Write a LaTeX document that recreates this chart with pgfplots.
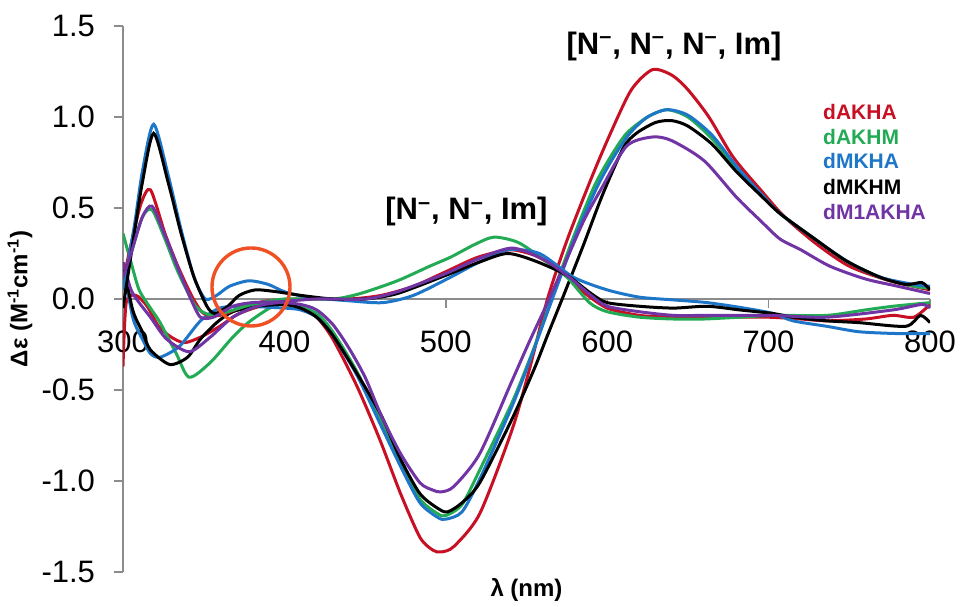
\documentclass[border=0pt]{standalone}
\usepackage{fontspec}
\setmainfont{Liberation Sans}
\usepackage{pgfplots}
\pgfplotsset{compat=1.18}
\definecolor{cdred}{RGB}{200,16,36}
\definecolor{cdgreen}{RGB}{34,170,84}
\definecolor{cdblue}{RGB}{30,118,200}
\definecolor{cdblack}{RGB}{0,0,0}
\definecolor{cdpurple}{RGB}{112,52,165}
\definecolor{circ}{RGB}{240,80,35}
\definecolor{axgray}{RGB}{140,140,140}

\begin{document}
\begin{tikzpicture}
\begin{axis}[
  name=ax,
  scale only axis, width=403.5pt, height=273pt,
  xmin=300, xmax=800, ymin=-1.5, ymax=1.5,
  axis x line*=middle, axis y line*=left,
  hide obscured x ticks=false, hide obscured y ticks=false,
  axis line style={draw=axgray, line width=0.7pt},
  tick style={draw=axgray, line width=0.7pt},
  tick align=outside, major tick length=4.5pt,
  xtick={300,400,500,600,700,800},
  xticklabels={300,400,500,600,700,800},
  ytick={-1.5,-1,-0.5,0,0.5,1,1.5},
  yticklabels={-1.5,-1.0,-0.5,0.0,0.5,1.0,1.5},
  tick label style={font=\fontsize{15.5}{18}\selectfont, text=black},
  xticklabel style={yshift=-8pt},
  yticklabel style={xshift=-6pt},
  xlabel={λ (nm)},
  ylabel={Δε (M\textsuperscript{-1}cm\textsuperscript{-1})},
  xlabel style={at={([yshift=-9pt]axis description cs:0.5,0)}, anchor=center,
    font=\fontsize{12}{14}\selectfont\bfseries},
  ylabel style={at={([xshift=-51.5pt]axis description cs:0,0.5)}, anchor=center,
    font=\fontsize{12}{14}\selectfont\bfseries},
  every axis plot/.append style={line width=1.5pt, smooth, tension=0.45},
]
% family with the large trough near 500 nm
\addplot[cdred] coordinates {(300,-0.37)(302,-0.02)(308,0.02)(315,-0.04)(322,-0.15)(330,-0.21)(338,-0.24)(348,-0.21)(360,-0.15)(372,-0.08)(389,-0.03)(400,-0.03)(410,-0.05)(420,-0.1)(430,-0.22)(445,-0.48)(459,-0.77)(472,-1.07)(484,-1.31)(492,-1.38)(497,-1.39)(505,-1.36)(521,-1.18)(541,-0.72)(552,-0.38)(563,0.0)(575,0.32)(590,0.66)(602,0.91)(615,1.15)(628,1.26)(640,1.23)(650,1.15)(663,1.0)(678,0.78)(695,0.6)(710,0.45)(730,0.3)(750,0.18)(775,0.1)(800,0.05)};
\addplot[cdgreen] coordinates {(300,0.36)(305,0.2)(310,0.05)(317,-0.05)(323,-0.13)(333,-0.3)(341,-0.43)(354,-0.35)(368,-0.21)(379,-0.12)(395,-0.03)(405,-0.03)(420,-0.08)(430,-0.18)(445,-0.4)(459,-0.66)(472,-0.9)(484,-1.1)(495,-1.18)(500,-1.19)(510,-1.13)(521,-0.94)(541,-0.57)(552,-0.33)(560,-0.14)(570,0.12)(580,0.36)(592,0.62)(602,0.78)(612,0.91)(625,1.0)(637,1.04)(650,1.0)(665,0.88)(680,0.72)(695,0.58)(707,0.47)(727,0.34)(748,0.21)(769,0.12)(790,0.07)(800,0.06)};
\addplot[cdblue] coordinates {(300,0.2)(306,-0.1)(312,-0.22)(317,-0.3)(323,-0.32)(335,-0.26)(348,-0.12)(360,-0.05)(375,-0.04)(400,-0.05)(410,-0.06)(420,-0.1)(430,-0.2)(445,-0.42)(459,-0.68)(472,-0.92)(484,-1.12)(495,-1.2)(500,-1.21)(510,-1.17)(521,-0.99)(541,-0.59)(552,-0.34)(561,-0.12)(571,0.12)(581,0.36)(594,0.62)(604,0.78)(614,0.91)(625,1.0)(637,1.04)(650,1.01)(665,0.9)(680,0.73)(695,0.58)(707,0.47)(727,0.34)(748,0.21)(769,0.12)(790,0.08)(800,0.07)};
\addplot[cdblack] coordinates {(300,0.2)(306,-0.06)(312,-0.18)(317,-0.28)(329,-0.36)(340,-0.32)(348,-0.22)(358,-0.13)(368,-0.07)(383,-0.04)(400,-0.03)(410,-0.05)(420,-0.1)(430,-0.2)(445,-0.41)(460,-0.64)(472,-0.88)(484,-1.07)(495,-1.15)(501,-1.17)(510,-1.12)(521,-1.01)(541,-0.66)(555,-0.38)(563,-0.2)(573,0.02)(585,0.29)(597,0.57)(610,0.83)(618,0.91)(630,0.97)(640,0.98)(650,0.95)(665,0.85)(680,0.7)(695,0.57)(707,0.47)(727,0.34)(748,0.21)(769,0.12)(785,0.08)(795,0.09)(800,0.05)};
\addplot[cdpurple] coordinates {(300,0.2)(305,0.05)(310,-0.02)(317,-0.1)(327,-0.22)(341,-0.29)(354,-0.21)(368,-0.1)(383,-0.04)(397,-0.02)(410,-0.03)(420,-0.06)(430,-0.14)(440,-0.27)(450,-0.43)(460,-0.64)(472,-0.85)(484,-1.01)(492,-1.05)(497,-1.06)(505,-1.03)(521,-0.85)(541,-0.45)(552,-0.23)(562,-0.04)(575,0.22)(586,0.44)(596,0.6)(612,0.84)(628,0.89)(640,0.87)(660,0.76)(680,0.56)(695,0.43)(707,0.33)(720,0.27)(738,0.18)(760,0.11)(780,0.07)(800,0.03)};
% family with the small band near 540 nm
\addplot[cdred] coordinates {(300,0.1)(305,0.3)(311,0.52)(317,0.6)(326,0.36)(334,0.18)(343,0.01)(350,-0.08)(360,-0.09)(375,-0.04)(390,-0.01)(410,0.0)(440,0.0)(460,0.02)(480,0.07)(500,0.15)(520,0.23)(540,0.27)(555,0.24)(565,0.19)(575,0.13)(585,0.04)(600,-0.05)(620,-0.09)(640,-0.1)(660,-0.1)(680,-0.1)(700,-0.1)(720,-0.11)(736,-0.12)(760,-0.11)(777,-0.09)(790,-0.1)(800,-0.03)};
\addplot[cdgreen] coordinates {(300,0.05)(305,0.25)(312,0.45)(318,0.49)(326,0.33)(334,0.15)(345,-0.04)(355,-0.09)(365,-0.07)(380,-0.03)(400,0.0)(430,0.0)(447,0.03)(470,0.1)(490,0.18)(503,0.23)(518,0.3)(530,0.34)(545,0.31)(560,0.22)(575,0.12)(589,-0.02)(600,-0.07)(620,-0.1)(641,-0.11)(660,-0.11)(682,-0.1)(703,-0.09)(736,-0.09)(760,-0.06)(777,-0.04)(800,-0.02)};
\addplot[cdblue] coordinates {(300,0.05)(307,0.4)(312,0.7)(319,0.96)(328,0.68)(336,0.38)(344,0.12)(351,0.0)(358,0.02)(366,0.07)(378,0.1)(390,0.08)(400,0.04)(415,0.01)(440,-0.01)(461,-0.02)(480,0.02)(503,0.12)(520,0.2)(538,0.27)(558,0.25)(579,0.12)(600,0.05)(620,0.01)(641,-0.005)(662,-0.02)(685,-0.05)(703,-0.08)(715,-0.12)(736,-0.15)(756,-0.18)(780,-0.19)(800,-0.19)};
\addplot[cdblack] coordinates {(300,-0.05)(307,0.36)(312,0.64)(319,0.91)(328,0.64)(336,0.36)(344,0.12)(352,-0.04)(357,-0.08)(365,-0.04)(372,0.02)(382,0.05)(395,0.04)(410,0.02)(430,0.0)(450,0.0)(470,0.03)(500,0.13)(520,0.2)(538,0.25)(555,0.21)(575,0.13)(590,0.03)(600,-0.02)(620,-0.04)(641,-0.05)(662,-0.04)(682,-0.06)(703,-0.08)(715,-0.1)(736,-0.12)(756,-0.13)(785,-0.15)(794,-0.09)(800,-0.13)};
\addplot[cdpurple] coordinates {(300,0.12)(305,0.25)(312,0.45)(318,0.51)(326,0.35)(335,0.15)(342,0.0)(348,-0.1)(356,-0.1)(368,-0.04)(380,-0.02)(397,-0.015)(420,0.0)(450,0.0)(470,0.04)(500,0.14)(520,0.22)(541,0.28)(560,0.22)(575,0.13)(590,0.02)(600,-0.04)(620,-0.07)(641,-0.09)(662,-0.09)(682,-0.09)(703,-0.09)(736,-0.1)(777,-0.06)(795,-0.03)(800,-0.05)};

\draw[circ, line width=1.7pt] (axis cs:379.3,0.066) circle[radius=19.5pt];

\node[font=\fontsize{15.5}{18}\selectfont\bfseries] at (axis cs:512.8,0.48)
  {[N\textsuperscript{–}, N\textsuperscript{–}, Im]};
\node[font=\fontsize{15.5}{18}\selectfont\bfseries] at (axis cs:641.4,1.39)
  {[N\textsuperscript{–}, N\textsuperscript{–}, N\textsuperscript{–}, Im]};

\begin{scope}[every node/.style={anchor=west, font=\fontsize{10.5}{12}\selectfont\bfseries, inner sep=0pt}]
\node[text=cdred]    at (axis cs:733.6,1.026) {dAKHA};
\node[text=cdgreen]  at (axis cs:733.6,0.889) {dAKHM};
\node[text=cdblue]   at (axis cs:733.6,0.758) {dMKHA};
\node[text=cdblack]  at (axis cs:733.6,0.617) {dMKHM};
\node[text=cdpurple] at (axis cs:733.6,0.479) {dM1AKHA};
\end{scope}
\end{axis}
\pgfresetboundingbox
\path ([xshift=-61.5pt,yshift=-17.5pt]ax.south west) rectangle ([xshift=16pt,yshift=13pt]ax.north east);
\end{tikzpicture}
\end{document}
